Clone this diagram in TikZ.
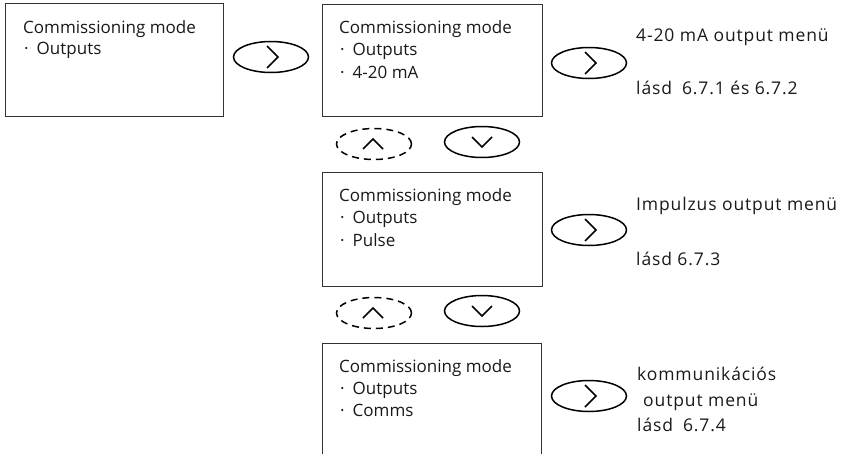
\documentclass[tikz,border=0pt]{standalone}
\usepackage{fontspec}
\setmainfont{Open Sans}
\usetikzlibrary{shapes.geometric}
\tikzset{
  screen/.style={draw=black!80, line width=1pt, rectangle, inner sep=0pt},
  key/.style={draw, ellipse, line width=1.5pt, minimum width=75pt, minimum height=31pt, inner sep=0pt},
  keyopt/.style={key, dash pattern=on 7pt off 5pt},
  chev/.style={line width=1.6pt, line join=miter},
  txt/.style={anchor=base west, inner sep=0pt, text=black!90, font=\fontsize{17}{20}\selectfont},
  menu/.style={txt, font=\fontsize{17.5}{20}\selectfont\addfontfeature{LetterSpace=5}},
}
% chevrons drawn inside a key, relative to its centre
\newcommand\chevR[1]{\draw[chev] ([shift={(-4,-11)}]#1.center) -- ++(11,11) -- ++(-11,11);}
\newcommand\chevU[1]{\draw[chev] ([shift={(-11,5)}]#1.center) -- ++(10,-10) -- ++(10,10);}
\newcommand\chevD[1]{\draw[chev] ([shift={(-10,-5)}]#1.center) -- ++(10,10) -- ++(10,-10);}
\begin{document}
\begin{tikzpicture}[x=1pt,y=-1pt]
\useasboundingbox (0,0) rectangle (849,453);

% screens
\node[screen, anchor=north west, minimum width=218pt, minimum height=113pt] (s1) at (5,3) {};
\node[screen, anchor=north west, minimum width=220pt, minimum height=112pt] (s2) at (322,4) {};
\node[screen, anchor=north west, minimum width=220pt, minimum height=114pt] (s3) at (322,172) {};
\draw[draw=black!80, line width=1pt] (322,455) -- (322,343) -- (541,343) -- (541,455);

% screen texts
\node[txt] (s1a) at (23,33) {Commissioning mode};
\node[txt] (s1b) at (24,54) {·\hspace{8pt}Outputs};

\node[txt] (s2a) at (339,33) {Commissioning mode};
\node[txt] (s2b) at (340,55) {·\hspace{8pt}Outputs};
\node[txt] (s2c) at (340,78) {·\hspace{8pt}4-20 mA};

\node[txt] (s3a) at (339,201) {Commissioning mode};
\node[txt] (s3b) at (340,223) {·\hspace{8pt}Outputs};
\node[txt] (s3c) at (340,246) {·\hspace{8pt}Pulse};

\node[txt] (s4a) at (339,372) {Commissioning mode};
\node[txt] (s4b) at (340,394) {·\hspace{8pt}Outputs};
\node[txt] (s4c) at (340,416) {·\hspace{8pt}Comms};

% keys
\node[key] (k1) at (271,57) {};
\node[key] (k2) at (589,63) {};
\node[keyopt] (u1) at (374,144) {};
\node[key] (d1) at (482,142) {};
\node[key] (k3) at (589,230) {};
\node[keyopt] (u2) at (374,313) {};
\node[key] (d2) at (482,311) {};
\node[key] (k4) at (589,396) {};

\chevR{k1} \chevR{k2} \chevR{k3} \chevR{k4}
\chevU{u1} \chevU{u2}
\chevD{d1} \chevD{d2}

% menu references
\node[menu] (m1a) at (636,41) {4-20 mA output menü};
\node[menu] (m1b) at (636,94) {lásd\hspace{10pt}6.7.1 és 6.7.2};
\node[menu] (m2a) at (636,210) {Impulzus output menü};
\node[menu] (m2b) at (636,265) {lásd 6.7.3};
\node[menu] (m3a) at (637,380) {kommunikációs};
\node[menu] (m3b) at (643,406) {output menü};
\node[menu] (m3c) at (637,431) {lásd\hspace{10pt}6.7.4};
\end{tikzpicture}
\end{document}
